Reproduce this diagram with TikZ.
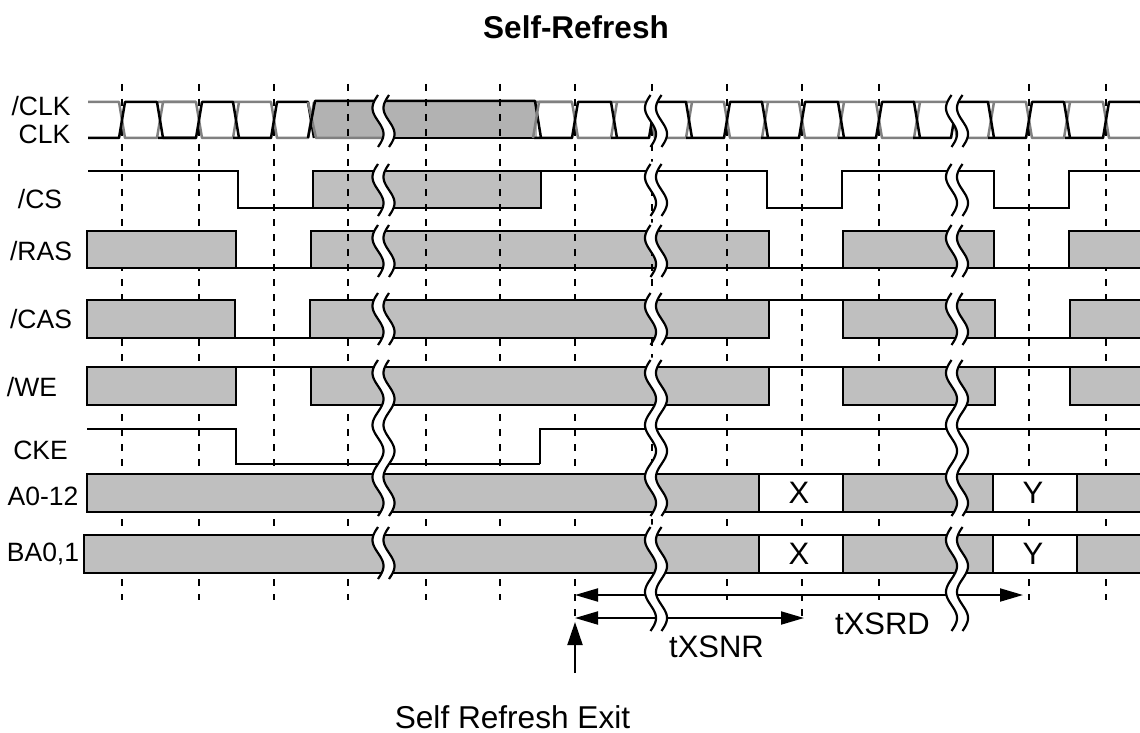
\documentclass[tikz,border=0pt]{standalone}
\usepackage{fontspec}
\setmainfont{Liberation Sans}
\usetikzlibrary{arrows.meta}
\definecolor{sg}{gray}{0.75}
\definecolor{dg}{gray}{0.70}
\definecolor{cg}{gray}{0.5}
\tikzset{
  x=1pt,y=-1pt,
  wave/.style={line width=2pt,black,line join=miter},
  gridl/.style={line width=1.1pt,black,dash pattern=on 7pt off 8pt},
  box/.style={draw=black,line width=2pt,fill=sg},
  clkb/.style={line width=2.5pt,black,line join=round},
  clkg/.style={line width=2.5pt,cg,line join=round},
  lbl/.style={font=\fontsize{26.5}{27}\selectfont,inner sep=0pt,anchor=base},
  big/.style={font=\fontsize{31}{31}\selectfont,inner sep=0pt,anchor=base},
  valbox/.style={draw=black,line width=2pt,fill=white,minimum width=84pt,minimum height=38pt,inner sep=0pt,font=\fontsize{31}{31}\selectfont},
  dim/.style={line width=2pt,black,{Triangle[length=23pt,width=13pt]}-{Triangle[length=23pt,width=13pt]}},
}
\newcommand{\brk}[3]{% left x, top y, periods
  \pgfmathsetmacro{\brkend}{#3*52}
  \pgfmathtruncatemacro{\brksamp}{41*#3}
  \draw[white,line width=10pt] plot[domain=0:\brkend,samples=\brksamp,smooth] ({#1+11-5.5*sin(6.923*\x)},{#2+\x});
  \draw[black,line width=2.2pt] plot[domain=0:\brkend,samples=\brksamp,smooth] ({#1+5.5-5.5*sin(6.923*\x)},{#2+\x});
  \draw[black,line width=2.2pt] plot[domain=0:\brkend,samples=\brksamp,smooth] ({#1+16.5-5.5*sin(6.923*\x)},{#2+\x});
}
\begin{document}
\begin{tikzpicture}
\useasboundingbox (0,0) rectangle (1140,733);
% shapes under the grid
\fill[dg] (313,102) rectangle (537,138);
\path[box] (311,231) rectangle (769,268);
\path[box] (313,171) rectangle (541,208);
% grid
\foreach \gx in {122,199,274,348,426,500,652,727,879,1029,1106}
  \draw[gridl] (\gx,84) -- (\gx,600);
\draw[gridl] (575,84) -- (575,622);
\draw[gridl] (802,84) -- (802,618);
% RAS boxes over the grid
\path[box] (87,231) rectangle (236,268);
\path[box] (843,231) rectangle (994,268);
\fill[sg] (1069,231) rectangle (1140,268);
\draw[wave] (1140,231) -- (1069,231) -- (1069,268) -- (1140,268);
% clock
\begin{scope}
\clip (88,90) rectangle (1140,150);
\draw[clkg] (88,102) -- (119,102) -- (125,138) -- (157,138) -- (163,102) -- (196,102);
\foreach \a/\b in {199/236,274/311,575/614,652/689,727/765,802/841,879/917,954/991,1029/1067,1106/1144}{
  \draw[clkg] (\a-41,102) -- (\a-3,102) -- (\a+3,138) -- (\b-3,138) -- (\b+3,102);
}
\draw[clkb] (88,138) -- (119,138) -- (125,102) -- (157,102) -- (163,138) -- (196,138);
\foreach \a/\b in {199/236,274/311,575/614,652/689,727/765,802/841,879/917,954/991,1029/1067,1106/1144}{
  \draw[clkb] (\a-41,138) -- (\a-3,138) -- (\a+3,102) -- (\b-3,102) -- (\b+3,138);
}
\draw[clkg] (308,102) -- (316,138) -- (385,138);
\draw[clkb] (308,138) -- (315,101) -- (535,101) -- (541,138);
\draw[clkb] (385,138) -- (535,138);
\draw[clkg] (533,138) -- (539,102) -- (572,102);
\end{scope}
% CS
\draw[wave] (88,171) -- (238,171) -- (238,208) -- (313,208);
\draw[wave] (541,171) -- (767,171) -- (767,208) -- (842,208) -- (842,171) -- (994,171) -- (994,208) -- (1069,208) -- (1069,171) -- (1140,171);
% RAS low
\draw[wave] (236,268) -- (311,268) (769,268) -- (843,268) (994,268) -- (1069,268);
% CAS
\path[box] (87,300) rectangle (235,338);
\path[box] (310,300) rectangle (769,338);
\path[box] (843,300) rectangle (995,338);
\fill[sg] (1070,300) rectangle (1140,338);
\draw[wave] (1140,300) -- (1070,300) -- (1070,338) -- (1140,338);
\draw[wave] (235,338) -- (310,338) (769,300) -- (843,300) (995,338) -- (1070,338);
% WE
\path[box] (87,367) rectangle (236,405);
\path[box] (311,367) rectangle (769,405);
\path[box] (843,367) rectangle (995,405);
\fill[sg] (1070,367) rectangle (1140,405);
\draw[wave] (1140,367) -- (1070,367) -- (1070,405) -- (1140,405);
\draw[wave] (236,367) -- (311,367) (769,367) -- (843,367) (995,367) -- (1070,367);
% CKE
\draw[wave] (87,429) -- (236,429) -- (236,464) -- (540,464);
\draw[wave] (540,464) -- (540,429) -- (1140,429);
% A0-12
\path[box] (87,474) rectangle (759,512);
\path[box] (843,474) rectangle (993,512);
\fill[sg] (1077,474) rectangle (1140,512);
\draw[wave] (1140,474) -- (1077,474) -- (1077,512) -- (1140,512);
\node[valbox] (ax) at (801,493) {\hspace*{-4pt}X};
\node[valbox] (ay) at (1035,493) {\hspace*{-4pt}Y};
% BA
\path[box] (84,535) rectangle (759,573);
\path[box] (843,535) rectangle (993,573);
\fill[sg] (1077,535) rectangle (1140,573);
\draw[wave] (1140,535) -- (1077,535) -- (1077,573) -- (1140,573);
\node[valbox] (bx) at (801,553.5) {\hspace*{-4pt}X};
\node[valbox] (by) at (1035,553.5) {\hspace*{-4pt}Y};
% dimension arrows
\coordinate (s1) at (575,595);
\coordinate (e1) at (1023,595);
\coordinate (s2) at (575,618);
\coordinate (e2) at (804,618);
\coordinate (ub) at (575,673);
\coordinate (ut) at (575,622);
\draw[dim] (s1) -- (e1);
\draw[dim] (s2) -- (e2);
\draw[line width=2pt,-{Triangle[length=23pt,width=15pt]}] (ub) -- (ut);
% breaks
\foreach \c in {372.5,645,946}{
  \brk{\c}{95}{1}
  \brk{\c}{164}{1}
  \brk{\c}{225}{1}
  \brk{\c}{293}{1}
  \brk{\c}{360}{3}
}
\brk{372.5}{527}{1}
\brk{645}{527}{2}
\brk{946}{527}{2}
% labels
\node[lbl] (lclk) at (41,116) {/CLK};
\node[lbl] (lck) at (44.5,143.5) {CLK};
\node[lbl] (lcs) at (40,208) {/CS};
\node[lbl] (lras) at (41,260) {/RAS};
\node[lbl] (lcas) at (41,328.5) {/CAS};
\node[lbl] (lwe) at (32,396) {/WE};
\node[lbl] (lcke) at (40.5,459) {CKE};
\node[lbl] (la) at (43,505) {A0-12};
\node[lbl] (lba) at (43,561) {BA0,1};
\node[big] (tn) at (716.5,657.5) {tXSNR};
\node[big] (td) at (882.5,634) {tXSRD};
\node[font=\fontsize{31.6}{32}\selectfont,inner sep=0pt,anchor=base] (se) at (512.5,728) {Self Refresh Exit};
\node[font=\fontsize{31.5}{32}\selectfont\bfseries,inner sep=0pt,anchor=base] (tt) at (576,38.5) {Self-Refresh};
\end{tikzpicture}
\end{document}
